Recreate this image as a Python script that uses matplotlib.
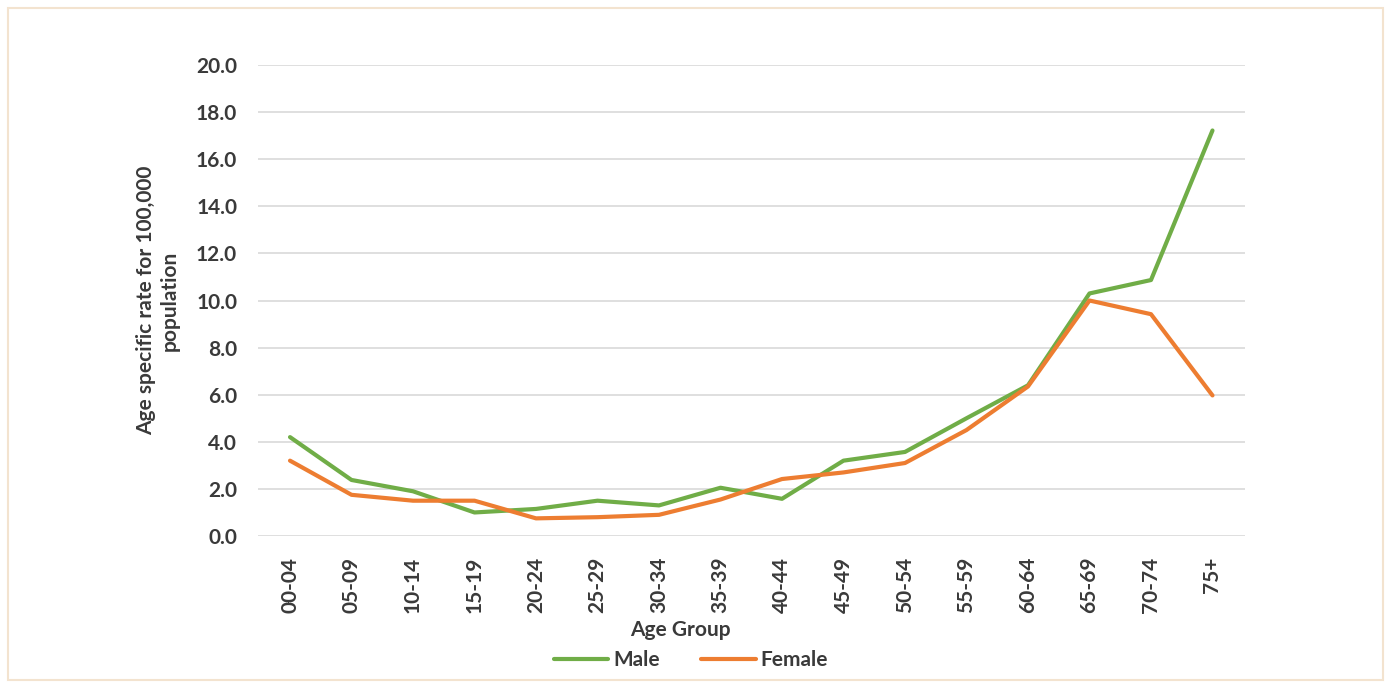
import matplotlib.pyplot as plt
from matplotlib.patches import Rectangle

plt.rcParams['font.family'] = ['Lato', 'DejaVu Sans']

# Data
age_groups = ['00-04', '05-09', '10-14', '15-19', '20-24', '25-29', '30-34', '35-39',
              '40-44', '45-49', '50-54', '55-59', '60-64', '65-69', '70-74', '75+']
male = [4.2, 2.38, 1.9, 1.0, 1.15, 1.5, 1.3, 2.05, 1.58, 3.2, 3.57, 5.0, 6.4, 10.3, 10.87, 17.22]
female = [3.2, 1.75, 1.5, 1.5, 0.75, 0.8, 0.9, 1.55, 2.42, 2.7, 3.1, 4.5, 6.35, 10.0, 9.42, 5.97]
yticks = [0, 2, 4, 6, 8, 10, 12, 14, 16, 18, 20]

txt = '#3a3a3a'

fig = plt.figure(figsize=(13.91, 6.88), dpi=100)
ax = fig.add_axes([0.1855, 0.2209, 0.7096, 0.6846])

x = list(range(len(age_groups)))
ax.plot(x, male, color='#70AD47', linewidth=3, label='Male', solid_capstyle='round')
ax.plot(x, female, color='#ED7D31', linewidth=3, label='Female', solid_capstyle='round')

ax.set_ylim(0, 20)
ax.set_xlim(-0.52, 15.53)
ax.set_yticks(yticks)
ax.set_yticklabels([f'{v:.1f}' for v in yticks])
ax.set_xticks(x)
ax.set_xticklabels(age_groups, rotation=90)
ax.tick_params(axis='both', length=0, labelsize=15, labelcolor=txt)
ax.tick_params(axis='y', pad=15)
ax.tick_params(axis='x', pad=15)
for lab in ax.get_xticklabels() + ax.get_yticklabels():
    lab.set_fontweight('bold')

ax.grid(axis='y', color='#d9d9d9', linewidth=1.2)
ax.set_axisbelow(True)
for s in ax.spines.values():
    s.set_visible(False)

ax.set_xlabel('Age Group', fontsize=15, fontweight='bold', color=txt, va='center')
ax.xaxis.set_label_coords(0.4276, -0.1996)
ax.set_ylabel('Age specific rate for 100,000\npopulation', fontsize=15, fontweight='bold',
              color=txt, labelpad=12)

ax.legend(loc='center', bbox_to_anchor=(0.4387, -0.263), ncol=2, frameon=False,
          prop={'weight': 'bold', 'size': 15}, handlelength=2.6, handletextpad=0.25,
          columnspacing=2.0, labelcolor=txt, borderpad=0)

# light frame around the whole chart
fig.patches.append(Rectangle((0.006, 0.011), 0.988, 0.978, transform=fig.transFigure,
                             fill=False, edgecolor='#f3e3cf', linewidth=1.5))

fig.savefig('out.png', dpi=100)
